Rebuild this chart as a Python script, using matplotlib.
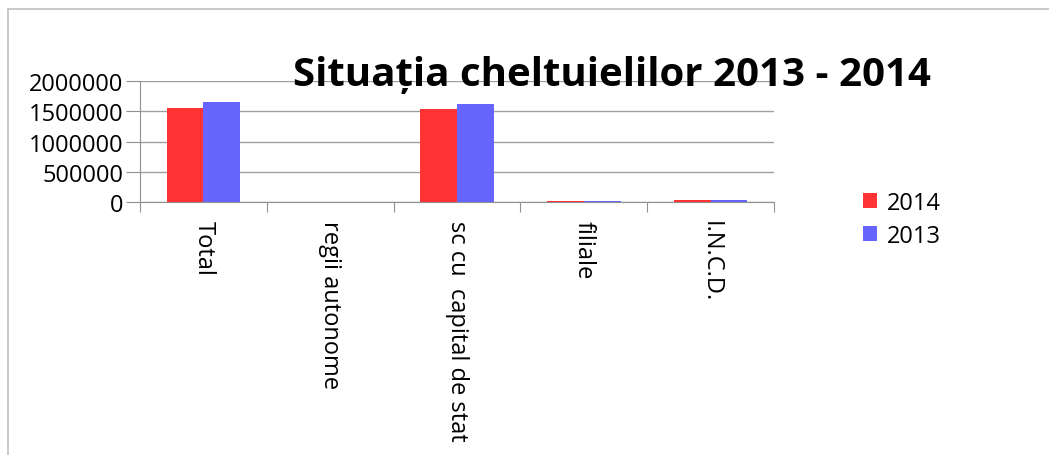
import matplotlib
matplotlib.use("Agg")
import matplotlib.pyplot as plt
import numpy as np
from matplotlib.lines import Line2D

categorii = ['Total', 'regii autonome', 'sc cu  capital de stat', 'filiale', 'I.N.C.D.']
val_2014 = [1550000, 0, 1540000, 12000, 30000]
val_2013 = [1650000, 0, 1620000, 10000, 27000]
ani = ['2014', '2013']

plt.rcParams['font.family'] = ['Open Sans', 'DejaVu Sans']

fig = plt.figure(figsize=(10.49, 4.56), dpi=100)
ax = fig.add_axes([140/1049, 1-203/456, 634/1049, 121/456])

x = np.arange(len(categorii))
w = 0.29
ax.bar(x - w/2, val_2014, w, color='#FF3333', label=ani[0], zorder=3)
ax.bar(x + w/2, val_2013, w, color='#6666FF', label=ani[1], zorder=3)

ax.set_xlim(-0.5, len(categorii) - 0.5)
ax.set_ylim(0, 2000000)
ax.set_yticks([0, 500000, 1000000, 1500000, 2000000])
ax.set_yticklabels(['0', '500000', '1000000', '1500000', '2000000'], fontsize=17)
ax.yaxis.grid(True, color='#A0A0A0', linewidth=1, zorder=0)

ax.set_xticks(np.arange(-0.5, len(categorii)), minor=False)
ax.set_xticklabels([])
ax.set_xticks(x, minor=True)
ax.set_xticklabels(categorii, minor=True, rotation=270, fontsize=17, va='top', ha='center')
ax.tick_params(axis='x', which='major', length=7, color='#909090')
ax.tick_params(axis='x', which='minor', length=0, pad=13)
ax.tick_params(axis='y', length=10, color='#909090', pad=2)

for s in ['top', 'right']:
    ax.spines[s].set_visible(False)
for s in ['left', 'bottom']:
    ax.spines[s].set_color('#909090')

# titlul se suprapune peste linia de sus a graficului, ca in original
fig.text(612/1049, 1-75/456, 'Situația cheltuielilor 2013 - 2014', fontsize=29,
         fontweight='bold', ha='center', va='center')

fig.legend(loc='upper left', bbox_to_anchor=(842/1049, 1-171/456), frameon=False,
           fontsize=17, handlelength=0.6, handleheight=0.6, handletextpad=0.4,
           labelspacing=0.35)

fig.add_artist(Line2D([8/1049, 1], [1-10/456, 1-10/456], color='#C0C0C0', lw=1.2))
fig.add_artist(Line2D([8/1049, 8/1049], [0, 1-10/456], color='#C0C0C0', lw=1.2))

fig.savefig('out.png', dpi=100)
